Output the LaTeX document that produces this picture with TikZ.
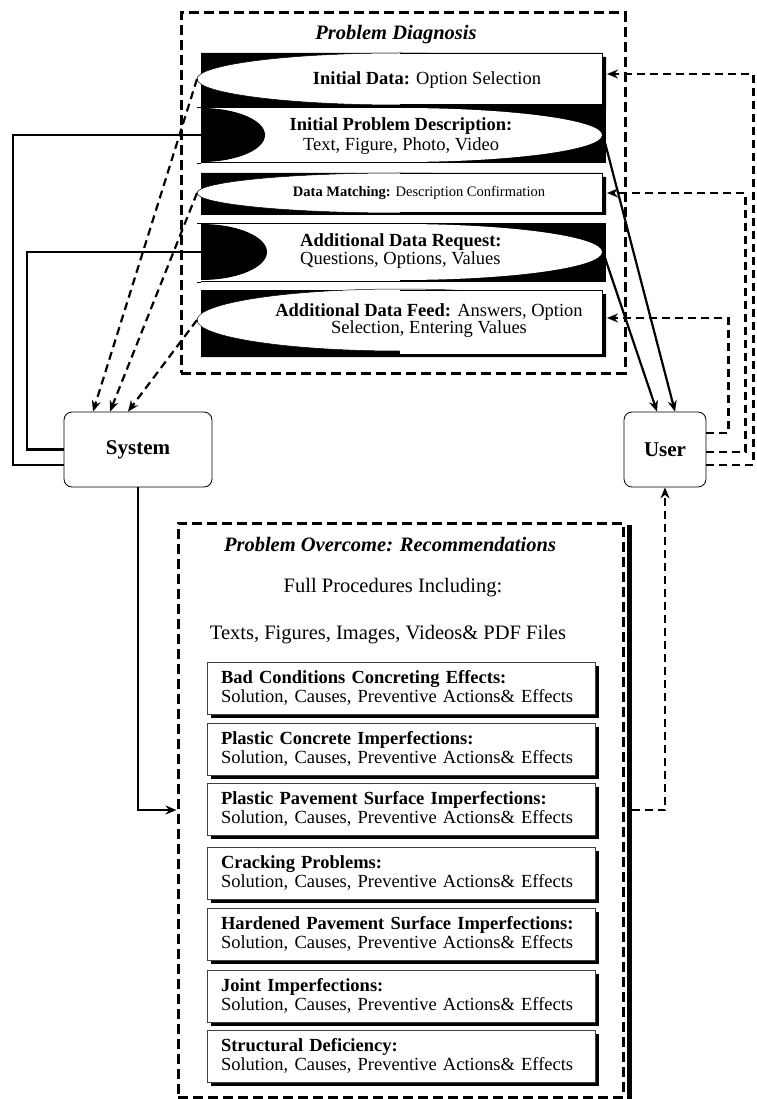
\documentclass[tikz,border=0pt]{standalone}
\usepackage{fontspec}
\setmainfont{Liberation Serif}
\usetikzlibrary{positioning, arrows.meta}
\newcommand{\fsz}[2]{\fontsize{#1}{#2}\selectfont}

\begin{document}
\begin{tikzpicture}[x=1pt, y=-1pt,
  dashbox/.style={draw, line width=3pt, dash pattern=on 10pt off 5pt, inner sep=0pt},
  actor/.style={draw, rounded corners=8pt, line width=0.8pt, minimum height=75pt, font=\fsz{21}{22}\bfseries},
  itembox/.style={draw=black!75, fill=white, line width=0.7pt, minimum width=388pt, minimum height=52pt, text width=360pt, inner xsep=14pt, inner ysep=0pt, align=left, font=\fsz{18.5}{19}},
  rowtext/.style={align=center, inner sep=0pt, font=\fsz{18.5}{20}},
  head/.style={font=\fsz{20.5}{22}\bfseries\itshape},
  plain/.style={font=\fsz{20.5}{22}},
  wire/.style={line width=2.2pt},
  link/.style={wire, -{Stealth[length=11pt, width=9pt]}},
  dlink/.style={link, dash pattern=on 8pt off 5pt}
]
  \useasboundingbox (0,0) rectangle (756,1099);

  % problem diagnosis
  \node[dashbox, minimum width=444pt, minimum height=360pt] (diag) at (403,193) {};
  \node[head] (diagtitle) at (396,35) {Problem Diagnosis};

  \foreach \t/\b/\c/\ry in {53/107/79/26, 173/215/193/20, 290/357/320/31}{
    \fill (201,\t) rectangle (602,\b) (602,\t+4) rectangle (606,\b);
    \filldraw[fill=white, line width=0.5pt] (400,\c) ellipse [x radius=203, y radius=\ry];
    \fill[white] (400,\t) rectangle (602,\b-3);
    \draw[line width=0.5pt] (400,\t) -- (602,\t) -- (602,\b-3) -- (400,\b-3);
  }
  \foreach \t/\b/\c/\ry/\bx in {107/163/135/27/64, 223/282/252/28/66}{
    \fill (201,\t) rectangle (606,\b);
    \fill[white] (201,\t+1) rectangle (400,\b-1);
    \fill[white] (400,\c) ellipse [x radius=202, y radius=\ry];
    \fill (201,\t+1) arc[start angle=-90, end angle=90, x radius=\bx, y radius=\ry];
    \draw[line width=0.6pt] (197,\t) -- (400,\t) (197,\b) -- (201,\b);
  }

  \node[rowtext] (t1) at (427,80) {\textbf{Initial Data:} Option Selection};
  \node[rowtext] (t2) at (401,136) {\textbf{Initial Problem Description:}\\Text, Figure, Photo, Video};
  \node[rowtext, font=\fsz{14.5}{16}] (t3) at (419,193) {\textbf{Data Matching:} Description Confirmation};
  \node[rowtext, align=left, anchor=west, font=\fsz{18.5}{18}] (t4) at (300,251) {\textbf{Additional Data Request:}\\Questions, Options, Values};
  \node[rowtext, font=\fsz{18.5}{17}] (t5) at (429,321) {\textbf{Additional Data Feed:} Answers, Option\\Selection, Entering Values};

  \coordinate (out1) at (197,79);
  \coordinate (out3) at (197,193);
  \coordinate (out5) at (197,320);
  \coordinate (ask2) at (201,135);
  \coordinate (ask4) at (201,252);
  \coordinate (tell2) at (603,135);
  \coordinate (tell4) at (603,252);
  \coordinate (in1) at (607,74);
  \coordinate (in3) at (607,193);
  \coordinate (in5) at (607,318);

  \node[actor, minimum width=148pt] (sys) at (138,449.5) {System};
  \node[actor, minimum width=82pt] (user) at (665,449.5) {User};

  % problem overcome
  \node[dashbox, minimum width=445pt, minimum height=574pt] (rec) at (400.5,810) {};
  \draw[line width=5pt] ([xshift=5pt, yshift=-3pt]rec.north east) -- ([xshift=5pt, yshift=-3pt]rec.south east);
  \node[head] (rectitle) at (390,545) {Problem Overcome: Recommendations};
  \node[plain] (full) at (393,588) {Full Procedures Including:};
  \node[plain] (media) at (388,635) {Texts, Figures, Images, Videos\& PDF Files};

  \foreach \c/\ttl [count=\i] in {688/Bad Conditions Concreting Effects:, 749/Plastic Concrete Imperfections:, 809/Plastic Pavement Surface Imperfections:, 873/Cracking Problems:, 934/Hardened Pavement Surface Imperfections:, 996/Joint Imperfections:, 1056/Structural Deficiency:}{
    \fill (211,\c-22) rectangle (599,\c+30);
    \node[itembox] (item\i) at (401,\c) {\textbf{\ttl}\\Solution, Causes, Preventive Actions\& Effects};
  }

  % connectors
  \draw[wire] ([yshift=-15.5pt]sys.west) -- ++(-51,0) |- (ask2);
  \draw[wire] (sys.west) -- ++(-37,0) |- (ask4);
  \draw[dlink] (out1) -- ([xshift=-45pt]sys.north);
  \draw[dlink] (out3) -- ([xshift=-28pt]sys.north);
  \draw[dlink] (out5) -- ([xshift=-10pt]sys.north);
  \draw[link] (tell2) -- ([xshift=10pt]user.north);
  \draw[link] (tell4) -- ([xshift=-8pt]user.north);
  \draw[dlink] ([yshift=-15.5pt]user.east) -- ++(47,0) |- (in1);
  \draw[dlink] ([yshift=-2.5pt]user.east) -- ++(39,0) |- (in3);
  \draw[dlink] ([yshift=16.5pt]user.east) -- ++(22,0) |- (in5);
  \draw[link] (sys.south) |- (rec.west);
  \draw[dlink] ([xshift=7pt]rec.east) -| (user.south);
\end{tikzpicture}
\end{document}
